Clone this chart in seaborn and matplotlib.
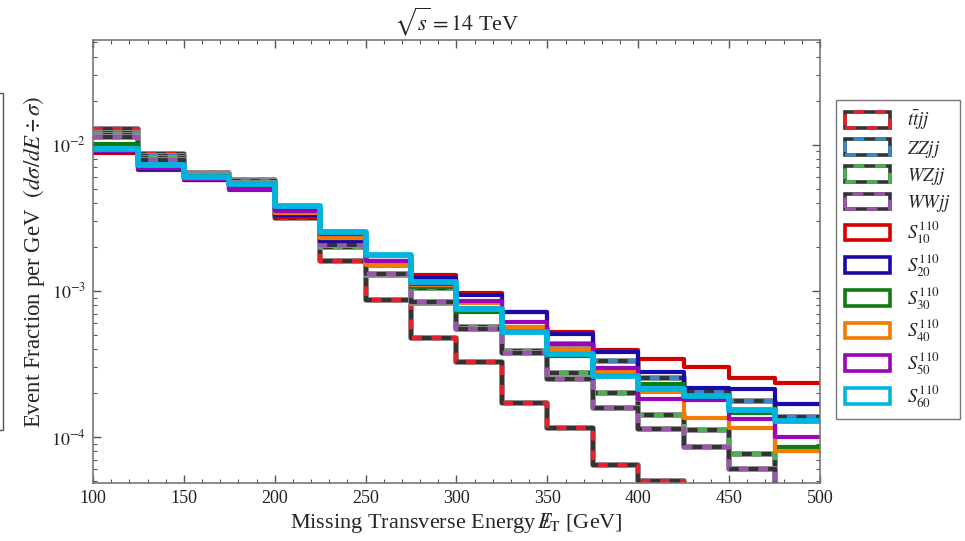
import numpy as np
import pandas as pd
import matplotlib
matplotlib.use("Agg")
import matplotlib.pyplot as plt
from matplotlib.patches import Patch, Rectangle
from matplotlib.legend_handler import HandlerTuple
import seaborn as sns

# ---------------- data (event fraction per GeV, 25 GeV bins) ----------------
bin_edges = [100, 125, 150, 175, 200, 225, 250, 275, 300, 325, 350, 375, 400, 425, 450, 475, 500]

ttjj = [0.0127, 0.0087, 0.0064, 0.0057, 0.00316, 0.00161, 0.000867, 0.000475,
        0.000327, 0.000171, 0.000115, 0.0000643, 0.0000500, 0.00002, 0.00002, 0.00002]
zzjj = [0.0121, 0.0083, 0.0063, 0.0056, 0.0036, 0.0022, 0.0015, 0.00105,
        0.00075, 0.00055, 0.00043, 0.00033, 0.000253, 0.000203, 0.000177, 0.000137]
wzjj = [0.0116, 0.0081, 0.0062, 0.0055, 0.0033, 0.0020, 0.00128, 0.00082,
        0.000569, 0.000388, 0.000274, 0.000200, 0.000142, 0.000112, 0.0000766, 0.00002]
wwjj = [0.0112, 0.0079, 0.0061, 0.0054, 0.00349, 0.00207, 0.00130, 0.000837,
        0.000549, 0.000376, 0.000250, 0.000158, 0.000114, 0.0000855, 0.0000604, 0.00002]

s10 = [0.0088, 0.0067, 0.0057, 0.0049, 0.0032, 0.0022, 0.0016, 0.00128,
       0.000964, 0.00072, 0.00052, 0.000394, 0.000342, 0.000300, 0.000253, 0.000234]
s20 = [0.0089, 0.0068, 0.0057, 0.0050, 0.0033, 0.0022, 0.0016, 0.00122,
       0.00093, 0.00072, 0.00051, 0.00038, 0.000279, 0.000217, 0.000214, 0.000167]
s30 = [0.0101, 0.0070, 0.0058, 0.0051, 0.0034, 0.0023, 0.0015, 0.00106,
       0.00072, 0.00052, 0.00036, 0.00028, 0.000231, 0.000185, 0.000145, 0.0000855]
s40 = [0.0092, 0.0069, 0.0058, 0.0050, 0.0034, 0.0023, 0.0015, 0.0011,
       0.000828, 0.00057, 0.00040, 0.000279, 0.000204, 0.000135, 0.000115, 0.0000802]
s50 = [0.0091, 0.0069, 0.0058, 0.0050, 0.0035, 0.00245, 0.00159, 0.00112,
       0.00085, 0.000614, 0.000433, 0.000297, 0.000182, 0.000179, 0.000133, 0.000100]
s60 = [0.0094, 0.0073, 0.0060, 0.0054, 0.0038, 0.00254, 0.00177, 0.00115,
       0.00075, 0.000524, 0.00037, 0.000262, 0.000214, 0.000191, 0.000153, 0.000129]

bkg_names = [r'$t\bar{t}jj$', r'$ZZjj$', r'$WZjj$', r'$WWjj$']
bkg_vals = [ttjj, zzjj, wzjj, wwjj]
bkg_cols = ['#e8202a', '#3f86c8', '#4cb050', '#9a56aa']

sig_names = [r'$S^{110}_{10}$', r'$S^{110}_{20}$', r'$S^{110}_{30}$',
             r'$S^{110}_{40}$', r'$S^{110}_{50}$', r'$S^{110}_{60}$']
sig_vals = [s10, s20, s30, s40, s50, s60]
sig_cols = ['#d40000', '#1a0aa8', '#0f7a0f', '#f57a00', '#9a05b5', '#00b4e0']

centers = [(a + b) / 2 for a, b in zip(bin_edges[:-1], bin_edges[1:])]

# ---------------- style ----------------
sns.set_style("ticks")
plt.rcParams['font.family'] = ['Liberation Serif', 'DejaVu Serif']
plt.rcParams['mathtext.fontset'] = 'stix'
plt.rcParams['xtick.direction'] = 'in'
plt.rcParams['ytick.direction'] = 'in'

fig = plt.figure(figsize=(9.65, 5.41), dpi=100)
ax = fig.add_axes([0.0964, 0.1072, 0.7533, 0.8189])

dash = (0, (2.2, 2.2))
# backgrounds: dark solid underlay + coloured dashes on top
for name, vals, col in zip(bkg_names, bkg_vals, bkg_cols):
    df = pd.DataFrame({'x': centers, 'w': vals})
    sns.histplot(data=df, x='x', weights='w', bins=bin_edges, element='step',
                 fill=False, color='#aaaaaa', lw=4.2, ax=ax)
    sns.histplot(data=df, x='x', weights='w', bins=bin_edges, element='step',
                 fill=False, color='#333333', lw=3.2, ax=ax)
    sns.histplot(data=df, x='x', weights='w', bins=bin_edges, element='step',
                 fill=False, color=col, lw=3.2, linestyle=dash, ax=ax)

# signals
for name, vals, col in zip(sig_names, sig_vals, sig_cols):
    df = pd.DataFrame({'x': centers, 'w': vals})
    lw = 4.2 if col == '#00b4e0' else 3.0
    sns.histplot(data=df, x='x', weights='w', bins=bin_edges, element='step',
                 fill=False, color=col, lw=lw, ax=ax)

ax.set_yscale('log')
ax.set_xlim(100, 500)
ax.set_ylim(4.85e-5, 5.2e-2)
ax.set_xticks(range(100, 501, 50))
ax.xaxis.set_minor_locator(matplotlib.ticker.MultipleLocator(10))
ax.tick_params(which='both', top=True, right=True, colors='#222222',
               labelsize=13, pad=5)
ax.tick_params(which='major', length=6, width=1)
ax.tick_params(which='minor', length=3, width=0.8)
ax.tick_params(axis='both', which='both', color='#555555')
ax.yaxis.set_major_formatter(matplotlib.ticker.FuncFormatter(
    lambda v, p: r'$10^{%d}$' % round(np.log10(v))))
for s in ax.spines.values():
    s.set_color('#777777')
    s.set_linewidth(1.2)

ax.set_xlabel(r'Missing Transverse Energy$\,E\!\!\!/_{\rm T}$ [GeV]', fontsize=16, labelpad=3)
ax.set_ylabel(r'Event Fraction per GeV  $(d\sigma/dE \div \sigma)$', fontsize=16.5, labelpad=3)
ax.set_title(r'$\sqrt{s} = 14$ TeV', fontsize=16, pad=7)

# legend with box handles
handles = []
for col in bkg_cols:
    h1 = Patch(facecolor='white', edgecolor='#333333', lw=2.6)
    h2 = Patch(facecolor='none', edgecolor=col, lw=2.6, linestyle=(0, (3, 3)))
    handles.append((h1, h2))
for col in sig_cols:
    handles.append(Patch(facecolor='white', edgecolor=col, lw=2.6))
leg = fig.legend(handles, bkg_names + sig_names, loc='upper left',
                 bbox_to_anchor=(0.866, 0.816), borderaxespad=0, frameon=True,
                 fancybox=False, fontsize=13.5, handlelength=2.4, handleheight=0.9,
                 labelspacing=0.33, borderpad=0.5, handletextpad=0.9,
                 handler_map={tuple: HandlerTuple(ndivide=1, pad=0)})
leg.get_frame().set_edgecolor('#555555')
leg.get_frame().set_linewidth(1.0)

# remnant of a neighbouring legend box at the left edge
fig.add_artist(Rectangle((-0.02, 1 - 430 / 541), 0.023, (430 - 93) / 541,
                         transform=fig.transFigure, fill=False,
                         edgecolor='#555555', lw=1.0))

fig.savefig('out.png', dpi=100)
